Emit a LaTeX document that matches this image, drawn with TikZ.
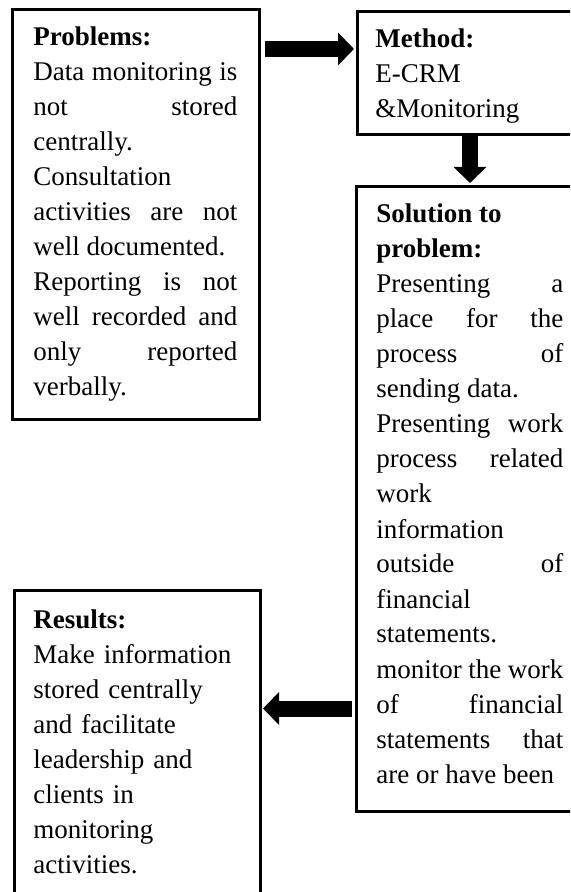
\documentclass[tikz,border=0pt]{standalone}
\usepackage{fontspec}
\setmainfont{Liberation Serif}
\usetikzlibrary{positioning}
\usetikzlibrary{arrows.meta}
\tolerance=10000
\hyphenpenalty=10000

\begin{document}
\begin{tikzpicture}[x=1pt, y=1pt,
 box/.style={rectangle, draw=black, line width=1.5pt, anchor=north west, inner sep=0pt},
 txt/.style={anchor=base west, inner sep=0pt, font=\fontsize{13.5pt}{17.5pt}\selectfont},
 blockarrow/.style={-{Triangle[length=8pt, width=16pt]}, line width=8pt}
]
% page frame
\clip (0,0) rectangle (285,-446);

% Boxes
\node[box, minimum width=123.5pt, minimum height=205pt] (prob) at (5.5,-4) {};
\node[box, minimum width=130pt, minimum height=61.5pt, below right=1pt and 47.5pt of prob.north east] (meth) {};
\node[box, minimum width=130pt, minimum height=312.5pt, below=24.5pt of meth.south west, anchor=north west, xshift=-0.5pt] (sol) {};
\node[box, minimum width=123pt, minimum height=200pt, below=84pt of prob.south west, anchor=north west, xshift=1pt] (res) {};

% Texts
\node[txt, text width=102pt, align=justify] (probtxt) at ([xshift=11pt, yshift=-19pt]prob.north west)
{\textbf{Problems:}\\
Data monitoring is\linebreak not stored\linebreak centrally.\\
Consultation\\
activities are not\linebreak well documented.\\
Reporting is not\linebreak well recorded and\linebreak only reported\linebreak verbally.};
\node[txt, text width=100pt, align=left] (methtxt) at ([xshift=9.5pt, yshift=-19pt]meth.north west)
{\textbf{Method:}\\ E-CRM\\ \&Monitoring};
\node[txt, text width=93.5pt, align=justify] (soltxt) at ([xshift=10.5pt, yshift=-19pt]sol.north west)
{\parfillskip=0pt \textbf{Solution to}\\ \textbf{problem:}\\
Presenting a\linebreak place for the\linebreak process of\linebreak sending data.\\
Presenting work\linebreak process related\linebreak work\\ information\\ outside of\linebreak financial\\ statements.\\
monitor the work\linebreak of financial\linebreak statements that\linebreak are or have been};
\node[txt, text width=100pt, align=left] (restxt) at ([xshift=10pt, yshift=-19.5pt]res.north west)
{\textbf{Results:}\\ Make information\\ stored centrally\\ and facilitate\\ leadership and\\ clients in\\ monitoring\\ activities.};

% Arrows
\coordinate (probout) at ([xshift=2pt, yshift=-20.5pt]prob.north east);
\draw[blockarrow, shorten >=1pt] (probout) -- (meth.west |- probout);
\coordinate (methout) at ([xshift=57pt]meth.south west);
\draw[blockarrow, shorten >=1pt] (methout) -- (sol.north -| methout);
\coordinate (solout) at ([xshift=-1.5pt, yshift=52.25pt]sol.south west);
\draw[blockarrow, shorten >=0.5pt] (solout) -- (res.east |- solout);
\end{tikzpicture}
\end{document}
